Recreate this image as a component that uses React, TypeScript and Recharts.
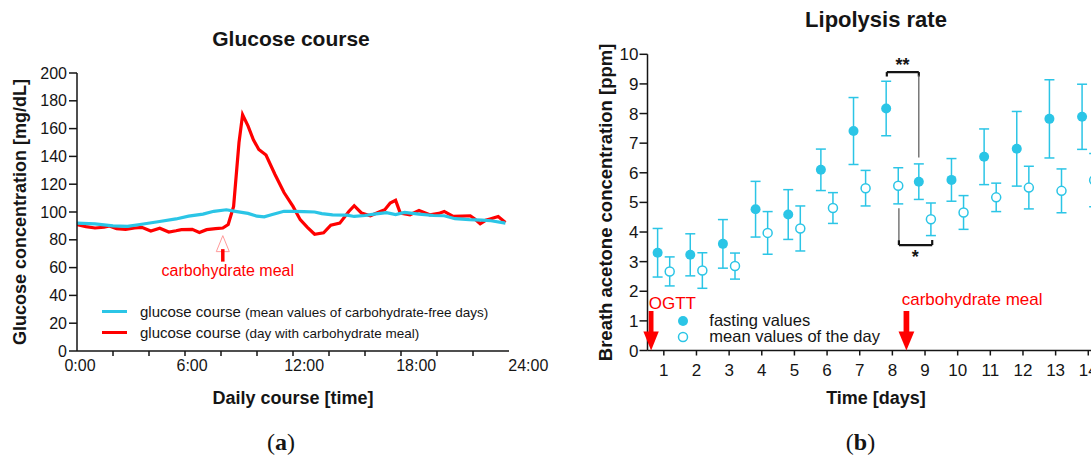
import React from 'react';
import {
  LineChart,
  Line,
  ScatterChart,
  Scatter,
  ErrorBar,
  XAxis,
  YAxis,
  ReferenceLine,
  ReferenceDot,
  Legend,
} from 'recharts';

const FONT = '"Liberation Sans", Arial, Helvetica, sans-serif';
const SERIF = '"Liberation Serif", "Times New Roman", serif';
const CYAN = '#2BC5E6';
const RED = '#FF0000';
const INK = '#151515';

// ---------- Panel (a): glucose course ----------
const carbDayTimes = [0, 0.5, 1, 1.5, 1.8, 2.2, 2.7, 3.2, 3.6, 4.1, 4.6, 5.1, 5.5, 5.8, 6.4, 6.8, 7.2, 7.7, 8.1, 8.4, 8.7, 9.0, 9.2, 9.5, 9.8, 10.1, 10.5, 11.0, 11.5, 12.0, 12.4, 12.8, 13.2, 13.7, 14.1, 14.6, 15.1, 15.4, 15.8, 16.3, 16.85, 17.1, 17.4, 17.7, 17.96, 18.5, 19.0, 19.6, 20.1, 20.4, 20.9, 21.4, 21.85, 22.1, 22.4, 22.7, 22.95, 23.4, 23.8];
const carbDayGlucose = [91, 89.5, 88.5, 89, 90, 88, 87.5, 88.5, 89, 86.3, 88.3, 85.6, 86.5, 87.3, 87.5, 85.3, 87.3, 88, 88.5, 91, 104, 150, 170, 162, 152, 145, 141, 127, 114, 104, 94.5, 89, 84, 85, 90.5, 92, 100.4, 104.5, 99.3, 97.3, 100.4, 101.7, 106.5, 108.4, 99.3, 98, 101, 98, 99, 100.4, 96.8, 97, 97.3, 95, 91.6, 94, 95, 96.8, 92.5];

const freeDayTimes = [0, 1, 2, 2.8, 3.5, 4.5, 5.5, 6.2, 7, 7.6, 8.3, 8.8, 9.5, 10.0, 10.4, 10.8, 11.5, 12.0, 12.6, 13.2, 13.6, 14.2, 15.0, 15.4, 16.0, 16.5, 17.2, 17.7, 18.2, 19.0, 19.8, 20.4, 21.0, 21.8, 22.5, 23.0, 23.8];
const freeDayGlucose = [92, 91.5, 90, 89.6, 91, 93, 95, 97, 98.5, 100.5, 101.6, 100.5, 99, 97, 96.5, 98, 100.5, 100.4, 100.2, 100, 98.8, 98, 97.8, 96.8, 97.5, 98.5, 99.5, 98.2, 99.7, 98.5, 97.5, 97.3, 95.2, 94.5, 94.2, 93.7, 92];

const glucoseTicks = [0, 20, 40, 60, 80, 100, 120, 140, 160, 180, 200];
const timeTicks = [0, 2, 4, 6, 8, 10, 12, 14, 16, 18, 20, 22, 24];
const timeTickLabels: Record<number, string> = { 0: '0:00', 6: '6:00', 12: '12:00', 18: '18:00', 24: '24:00' };
const mealTime = 8.1;
const mealMarkerLevel = 83;

const glucoseLegendRows = [
  { color: CYAN, main: 'glucose course', note: '(mean values of carbohydrate-free days)' },
  { color: RED, main: 'glucose course', note: '(day with carbohydrate meal)' },
];

// ---------- Panel (b): lipolysis rate ----------
const days = [1, 2, 3, 4, 5, 6, 7, 8, 9, 10, 11, 12, 13, 14];
const fastingValues = [3.30, 3.23, 3.60, 4.77, 4.59, 6.10, 7.41, 8.17, 5.70, 5.76, 6.54, 6.81, 7.82, 7.89];
const fastingErrors = [0.82, 0.71, 0.82, 0.94, 0.84, 0.70, 1.13, 0.92, 0.60, 0.72, 0.94, 1.26, 1.32, 1.10];
const dayMeanValues = [2.67, 2.70, 2.85, 3.97, 4.12, 4.81, 5.48, 5.56, 4.43, 4.66, 5.17, 5.50, 5.39, 5.75];
const dayMeanErrors = [0.49, 0.60, 0.44, 0.72, 0.76, 0.52, 0.60, 0.61, 0.55, 0.57, 0.48, 0.72, 0.74, 0.90];
const acetoneTicks = [0, 1, 2, 3, 4, 5, 6, 7, 8, 9, 10];
const ogttDay = 0.61;
const mealDay = 8.43;

const FASTING_SHIFT = -0.19;
const MEAN_SHIFT = 0.18;

const carbData = carbDayTimes.map((t, i) => ({ t, v: carbDayGlucose[i] }));
const freeData = freeDayTimes.map((t, i) => ({ t, v: freeDayGlucose[i] }));
const fastingData = days.map((d, i) => ({ x: d + FASTING_SHIFT, y: fastingValues[i], err: fastingErrors[i] }));
const dayMeanData = days.map((d, i) => ({ x: d + MEAN_SHIFT, y: dayMeanValues[i], err: dayMeanErrors[i] }));

const rightLegendRows = [
  { filled: true, label: 'fasting values' },
  { filled: false, label: 'mean values of the day' },
];

// ---------- renderers ----------
const TimeTick = (props: any) => {
  const { x, y, payload } = props;
  const v = payload.value as number;
  const label = timeTickLabels[v];
  return (
    <g>
      {v > 0 && v < 24 && <line x1={x} x2={x} y1={y} y2={y + 5} stroke={INK} strokeWidth={1.5} />}
      {label && (
        <text x={x + 3 + v * 0.68} y={y + 14} dy="0.36em" textAnchor="middle" fontSize={16} fontFamily={FONT} fill={INK}>
          {label}
        </text>
      )}
    </g>
  );
};

const MealMarker = (props: any) => {
  const { cx, cy } = props;
  return (
    <g>
      <path d={`M${cx},${cy} L${cx - 6.5},${cy + 16} L${cx + 6.5},${cy + 16} Z`} fill="#ffffff" stroke="#FF9A9A" strokeWidth={1} />
      <line x1={cx} x2={cx} y1={cy + 13.5} y2={cy + 26} stroke={RED} strokeWidth={3.5} />
      <text x={cx + 5} y={cy + 35} dy="0.36em" textAnchor="middle" fontSize={16} fontFamily={FONT} fill={RED}>
        carbohydrate meal
      </text>
    </g>
  );
};

const GlucoseLegend = () => (
  <div style={{ fontFamily: FONT, color: INK }}>
    {glucoseLegendRows.map((r) => (
      <div key={r.note} style={{ display: 'flex', alignItems: 'center', height: 21.3, whiteSpace: 'nowrap' }}>
        <span style={{ display: 'inline-block', width: 25, height: 3.5, background: r.color, marginRight: 13 }} />
        <span style={{ fontSize: 15 }}>
          {r.main} <span style={{ fontSize: 13.5 }}>{r.note}</span>
        </span>
      </div>
    ))}
  </div>
);

const RightLegend = () => (
  <div style={{ fontFamily: FONT, color: INK }}>
    {rightLegendRows.map((r) => (
      <div key={r.label} style={{ display: 'flex', alignItems: 'center', height: 16, whiteSpace: 'nowrap' }}>
        <svg width={12} height={12} style={{ display: 'block' }}>
          {r.filled ? (
            <circle cx={6} cy={6} r={5} fill={CYAN} />
          ) : (
            <circle cx={6} cy={6} r={4.5} fill="#ffffff" stroke={CYAN} strokeWidth={1.5} />
          )}
        </svg>
        <span style={{ marginLeft: 20, fontSize: 16.5 }}>{r.label}</span>
      </div>
    ))}
  </div>
);

const FilledDot = (p: any) => <circle cx={p.cx} cy={p.cy} r={5} fill={CYAN} />;
const OpenDot = (p: any) => <circle cx={p.cx} cy={p.cy} r={4.5} fill="#ffffff" stroke={CYAN} strokeWidth={1.5} />;

const DownArrow = (label: string, shaftW: number, headHalf: number, textDx: number, textDy: number) => (p: any) => {
  const { cx, cy } = p;
  return (
    <g>
      <rect x={cx - shaftW / 2} y={cy - 39.5} width={shaftW} height={21} fill={RED} />
      <path d={`M${cx - headHalf},${cy - 19} L${cx + headHalf},${cy - 19} L${cx},${cy} Z`} fill={RED} />
      <text x={cx + textDx} y={cy + textDy} dy="0.36em" textAnchor="start" fontSize={17} fontFamily={FONT} fill={RED}>
        {label}
      </text>
    </g>
  );
};

const StarText = (text: string) => (p: any) => (
  <text x={p.cx} y={p.cy} dy={10} textAnchor="middle" fontSize={18} fontWeight="bold" fontFamily={FONT} fill={INK}>
    {text}
  </text>
);

const axisLineStyle = { stroke: INK, strokeWidth: 1.5 };

export default function App() {
  return (
    <div style={{ position: 'absolute', left: 0, top: 0, width: 1091, height: 459, overflow: 'hidden', background: '#ffffff', fontFamily: FONT }}>
      {/* Panel (a) */}
      <div style={{ position: 'absolute', left: 0, top: 0 }}>
        <LineChart width={560} height={459} margin={{ top: 73, right: 51, bottom: 48, left: 0 }}>
          <XAxis
            type="number"
            dataKey="t"
            domain={[0, 24]}
            ticks={timeTicks}
            interval={0}
            allowDataOverflow
            height={60}
            tickSize={0}
            tickMargin={0}
            tickLine={false}
            axisLine={axisLineStyle}
            tick={<TimeTick />}
            label={{
              content: () => (
                <text x={293} y={397.6} dy="0.36em" textAnchor="middle" fontSize={18} fontWeight="bold" fontFamily={FONT} fill={INK}>
                  Daily course [time]
                </text>
              ),
            }}
          />
          <YAxis
            type="number"
            domain={[0, 200]}
            ticks={glucoseTicks}
            interval={0}
            width={77}
            tickSize={8}
            tickMargin={2}
            axisLine={axisLineStyle}
            tickLine={axisLineStyle}
            tick={{ fontSize: 16, fontFamily: FONT, fill: INK }}
            label={{
              content: () => (
                <text x={19.2} y={212} dy="0.36em" transform="rotate(-90 19.2 212)" textAnchor="middle" fontSize={18} fontWeight="bold" fontFamily={FONT} fill={INK}>
                  Glucose concentration [mg/dL]
                </text>
              ),
            }}
          />
          <Line data={carbData} dataKey="v" name="carb" type="linear" stroke={RED} strokeWidth={3.2} dot={false} isAnimationActive={false} />
          <Line data={freeData} dataKey="v" name="free" type="linear" stroke={CYAN} strokeWidth={3.2} dot={false} isAnimationActive={false} />
          <ReferenceDot x={mealTime} y={mealMarkerLevel} shape={MealMarker} />
          <Legend
            layout="vertical"
            align="center"
            verticalAlign="middle"
            content={GlucoseLegend}
            wrapperStyle={{ left: 102, top: 300.7, width: 420, height: 43 }}
          />
        </LineChart>
      </div>

      {/* Panel (b) */}
      <div style={{ position: 'absolute', left: 560, top: 0 }}>
        <ScatterChart width={560} height={459} margin={{ top: 54.3, right: 15.4, bottom: 48.5, left: 0 }}>
          <XAxis
            type="number"
            dataKey="x"
            domain={[0.5, 14.5]}
            ticks={days}
            interval={0}
            allowDataOverflow
            height={60}
            tickSize={5}
            tickMargin={8}
            axisLine={axisLineStyle}
            tickLine={axisLineStyle}
            tick={{ fontSize: 17, fontFamily: FONT, fill: INK }}
            label={{
              content: () => (
                <text x={316} y={397.8} dy="0.36em" textAnchor="middle" fontSize={18} fontWeight="bold" fontFamily={FONT} fill={INK}>
                  Time [days]
                </text>
              ),
            }}
          />
          <YAxis
            type="number"
            dataKey="y"
            domain={[0, 10]}
            ticks={acetoneTicks}
            interval={0}
            width={87.5}
            tickSize={8}
            tickMargin={1}
            axisLine={axisLineStyle}
            tickLine={axisLineStyle}
            tick={{ fontSize: 17, fontFamily: FONT, fill: INK }}
            label={{
              content: () => (
                <text x={45} y={202.4} dy="0.36em" transform="rotate(-90 45 202.4)" textAnchor="middle" fontSize={18.5} fontWeight="bold" fontFamily={FONT} fill={INK}>
                  Breath acetone concentration [ppm]
                </text>
              ),
            }}
          />
          <Scatter data={fastingData} name="fasting values" fill={CYAN} shape={FilledDot} isAnimationActive={false}>
            <ErrorBar dataKey="err" direction="y" width={5} stroke={CYAN} strokeWidth={1.5} />
          </Scatter>
          <Scatter data={dayMeanData} name="mean values of the day" fill={CYAN} shape={OpenDot} isAnimationActive={false}>
            <ErrorBar dataKey="err" direction="y" width={5} stroke={CYAN} strokeWidth={1.5} />
          </Scatter>

          {/* ** bracket: fasting day 8 vs day 9 */}
          <ReferenceLine segment={[{ x: 7.83, y: 9.4 }, { x: 8.81, y: 9.4 }]} stroke={INK} strokeWidth={2.2} />
          <ReferenceLine segment={[{ x: 7.83, y: 9.4 }, { x: 7.83, y: 9.25 }]} stroke={INK} strokeWidth={2.2} />
          <ReferenceLine segment={[{ x: 8.81, y: 9.4 }, { x: 8.81, y: 9.25 }]} stroke={INK} strokeWidth={2.2} />
          <ReferenceLine segment={[{ x: 8.81, y: 9.3 }, { x: 8.81, y: 6.52 }]} stroke="#555555" strokeWidth={1.2} />
          <ReferenceDot x={8.31} y={9.78} shape={StarText('**')} />

          {/* * bracket: day means day 8 vs day 9 */}
          <ReferenceLine segment={[{ x: 8.2, y: 4.8 }, { x: 8.2, y: 3.62 }]} stroke="#555555" strokeWidth={1.2} />
          <ReferenceLine segment={[{ x: 8.2, y: 3.72 }, { x: 8.2, y: 3.56 }]} stroke={INK} strokeWidth={2.2} />
          <ReferenceLine segment={[{ x: 8.2, y: 3.56 }, { x: 9.22, y: 3.56 }]} stroke={INK} strokeWidth={2.2} />
          <ReferenceLine segment={[{ x: 9.22, y: 3.56 }, { x: 9.22, y: 3.73 }]} stroke={INK} strokeWidth={2.2} />
          <ReferenceDot x={8.7} y={3.28} shape={StarText('*')} />

          <ReferenceDot x={ogttDay} y={0} shape={DownArrow('OGTT', 4.8, 7.7, -2.4, -47.2)} />
          <ReferenceDot x={mealDay} y={0} shape={DownArrow('carbohydrate meal', 5.7, 7.9, -4.7, -51.2)} />

          <Legend
            layout="vertical"
            align="center"
            verticalAlign="middle"
            content={RightLegend}
            wrapperStyle={{ left: 117.3, top: 312.7, width: 260, height: 32 }}
          />
        </ScatterChart>
      </div>

      {/* Titles */}
      <div style={{ position: 'absolute', left: 141, width: 300, top: 27.7, textAlign: 'center', fontSize: 21, fontWeight: 'bold', lineHeight: 1, color: INK }}>
        Glucose course
      </div>
      <div style={{ position: 'absolute', left: 726, width: 300, top: 9.2, textAlign: 'center', fontSize: 22, fontWeight: 'bold', lineHeight: 1, color: INK }}>
        Lipolysis rate
      </div>

      {/* Panel letters */}
      <div style={{ position: 'absolute', left: 231, width: 100, top: 430, textAlign: 'center', fontSize: 24, lineHeight: 1, fontFamily: SERIF, color: INK }}>
        (<b>a</b>)
      </div>
      <div style={{ position: 'absolute', left: 810.5, width: 100, top: 430, textAlign: 'center', fontSize: 24, lineHeight: 1, fontFamily: SERIF, color: INK }}>
        (<b>b</b>)
      </div>
    </div>
  );
}
